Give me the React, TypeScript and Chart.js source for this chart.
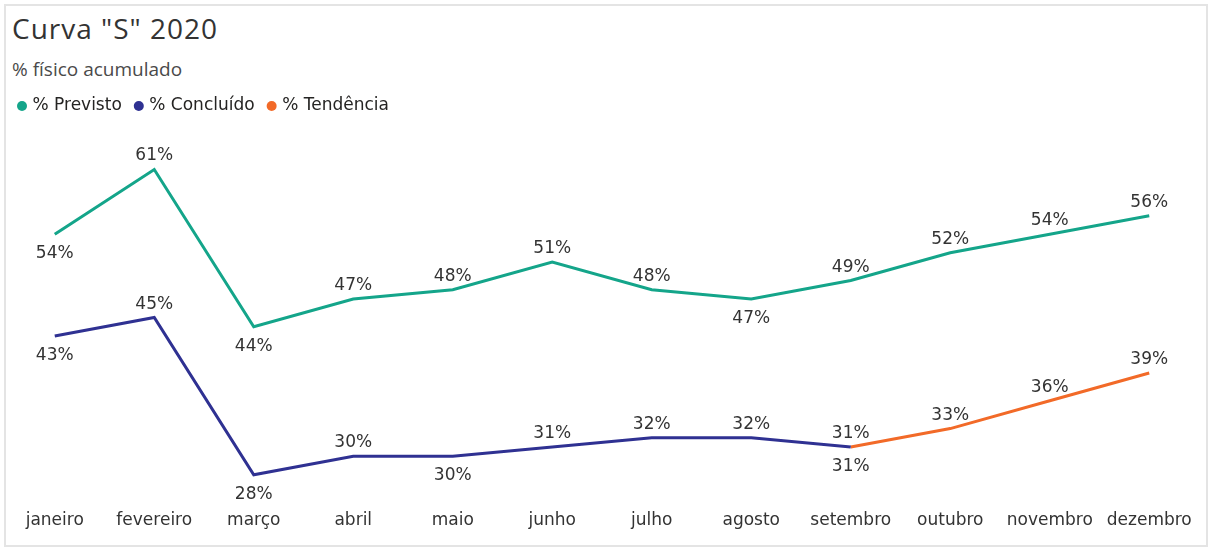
import React, { useEffect, useRef } from "react";
import { Chart, registerables } from "chart.js";

Chart.register(...registerables);

const months = [
  "janeiro", "fevereiro", "março", "abril", "maio", "junho",
  "julho", "agosto", "setembro", "outubro", "novembro", "dezembro",
];
const previsto = [54, 61, 44, 47, 48, 51, 48, 47, 49, 52, 54, 56];
const concluido = [43, 45, 28, 30, 30, 31, 32, 32, 31, null, null, null];
const tendencia = [null, null, null, null, null, null, null, null, 31, 33, 36, 39];

const previstoLabelPos = ["below", "above", "below", "above", "above", "above", "above", "below", "above", "above", "above", "above"];
const concluidoLabelPos = ["below", "above", "below", "above", "below", "above", "above", "above", "below", null, null, null];
const tendenciaLabelPos = [null, null, null, null, null, null, null, null, "above", "above", "above", "above"];

const COLOR_PREV = "#14A58A";
const COLOR_CONC = "#2F3192";
const COLOR_TEND = "#F26A28";
const FONT = "'DejaVu Sans', Verdana, sans-serif";

const pointLabels = {
  id: "pointLabels",
  afterDatasetsDraw(chart: any) {
    const ctx = chart.ctx;
    ctx.save();
    ctx.font = `17px ${FONT}`;
    ctx.fillStyle = "#333333";
    ctx.textAlign = "center";
    ctx.textBaseline = "alphabetic";
    chart.data.datasets.forEach((ds: any, di: number) => {
      const meta = chart.getDatasetMeta(di);
      const pos = ds.labelPos || [];
      meta.data.forEach((pt: any, i: number) => {
        const v = ds.data[i];
        if (v == null || !pos[i]) return;
        const y = pos[i] === "above" ? pt.y - 9 : pt.y + 23.8;
        ctx.fillText(Math.round(v) + "%", pt.x, y);
      });
    });
    ctx.restore();
  },
};

export default function App() {
  const canvasRef = useRef<HTMLCanvasElement | null>(null);

  useEffect(() => {
    if (!canvasRef.current) return;
    Chart.defaults.font.family = FONT;
    const chart = new Chart(canvasRef.current, {
      type: "line",
      data: {
        labels: months,
        datasets: [
          {
            label: "% Previsto",
            data: previsto,
            borderColor: COLOR_PREV,
            backgroundColor: COLOR_PREV,
            borderWidth: 3,
            pointRadius: 0,
            tension: 0,
            labelPos: previstoLabelPos,
          } as any,
          {
            label: "% Concluído",
            data: concluido,
            borderColor: COLOR_CONC,
            backgroundColor: COLOR_CONC,
            borderWidth: 3,
            pointRadius: 0,
            tension: 0,
            labelPos: concluidoLabelPos,
          } as any,
          {
            label: "% Tendência",
            data: tendencia,
            borderColor: COLOR_TEND,
            backgroundColor: COLOR_TEND,
            borderWidth: 3,
            pointRadius: 0,
            tension: 0,
            labelPos: tendenciaLabelPos,
          } as any,
        ],
      },
      options: {
        responsive: false,
        animation: false,
        events: [],
        layout: { padding: { left: 5, right: 13, top: 82.5, bottom: 11 } },
        plugins: {
          title: { display: false },
          tooltip: { enabled: false },
          legend: {
            display: true,
            position: "top",
            align: "start",
            labels: {
              usePointStyle: true,
              pointStyle: "circle",
              boxWidth: 4,
              boxHeight: 7.07,
              padding: 15,
              color: "#252423",
              font: { size: 17, family: FONT },
              generateLabels: (chart: any) =>
                chart.data.datasets.map((ds: any, i: number) => ({
                  text: ds.label,
                  fillStyle: ds.borderColor,
                  strokeStyle: ds.borderColor,
                  lineWidth: 0,
                  pointStyle: "circle",
                  hidden: false,
                  datasetIndex: i,
                  fontColor: "#252423",
                })),
            },
          },
        },
        scales: {
          x: {
            type: "category",
            offset: true,
            grid: { display: false, drawTicks: false },
            border: { display: false },
            ticks: {
              color: "#333333",
              font: { size: 17, family: FONT },
              padding: 8,
              autoSkip: false,
              maxRotation: 0,
              minRotation: 0,
            },
          },
          y: {
            display: false,
            min: 25,
            max: 65.86,
          },
        },
      },
      plugins: [pointLabels],
    });
    return () => chart.destroy();
  }, []);

  return (
    <div
      style={{
        position: "fixed",
        left: 0,
        top: 0,
        width: 1212,
        height: 550,
        background: "#ffffff",
        overflow: "hidden",
      }}
    >
      <div
        style={{
          position: "absolute",
          left: 4,
          top: 4,
          width: 1204,
          height: 543,
          border: "2px solid #e4e4e4",
          boxSizing: "border-box",
        }}
      />
      <div
        style={{
          position: "absolute",
          left: 12,
          top: 14,
          fontFamily: "'Open Sans', sans-serif",
          fontSize: 28,
          lineHeight: "28px",
          letterSpacing: "1px",
          color: "#333333",
          whiteSpace: "nowrap",
        }}
      >
        Curva "S" 2020
      </div>
      <div
        style={{
          position: "absolute",
          left: 12,
          top: 60,
          fontFamily: "'Open Sans', sans-serif",
          fontSize: 19,
          lineHeight: "19px",
          color: "#4a4a4a",
          whiteSpace: "nowrap",
        }}
      >
        % físico acumulado
      </div>
      <canvas
        ref={canvasRef}
        width={1212}
        height={550}
        style={{ position: "absolute", left: 0, top: 0, display: "block" }}
      />
    </div>
  );
}
